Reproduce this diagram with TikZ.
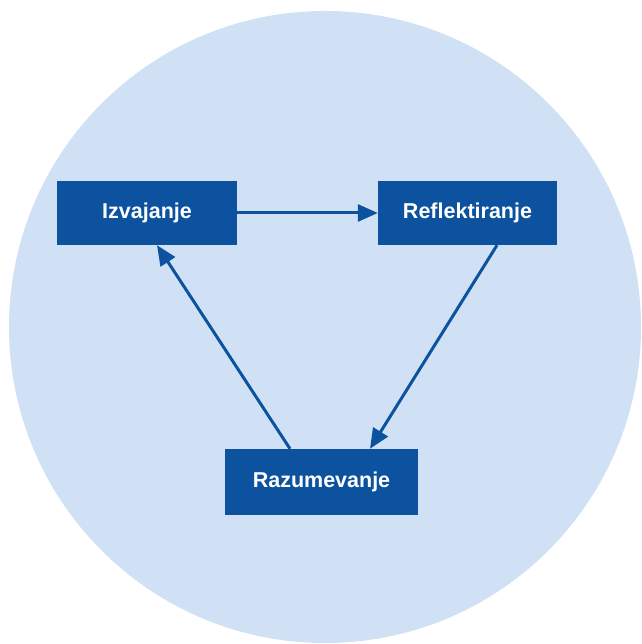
\documentclass[tikz,border=0pt]{standalone}
\usepackage{fontspec}
\setmainfont{Liberation Sans}
\usetikzlibrary{arrows.meta}
\definecolor{circfill}{RGB}{208,225,245}
\definecolor{boxblue}{RGB}{12,82,158}
\begin{document}
\begin{tikzpicture}[x=1pt,y=1pt,
  stepbox/.style={draw=none,fill=boxblue,text=white,font=\fontsize{21.5}{24}\selectfont\bfseries,inner sep=0pt,anchor=center},
  flow/.style={draw=boxblue,line width=3pt,-{Triangle[length=20pt,width=17pt]}}]
\useasboundingbox (0,0) rectangle (641,644);
\fill[circfill] (325,317) circle (316);
\node[stepbox,minimum width=180pt,minimum height=64pt] (I) at (147,431) {Izvajanje};
\node[stepbox,minimum width=179pt,minimum height=64pt] (R) at (467.5,431) {Reflektiranje};
\node[stepbox,minimum width=193pt,minimum height=66pt] (Z) at (321.5,162) {Razumevanje};
\draw[flow] (I.east) -- (R.west);
\draw[flow] ([xshift=29.5pt]R.south) -- ([xshift=48.5pt]Z.north);
\draw[flow] ([xshift=-31.5pt]Z.north) -- ([xshift=10pt]I.south);
\end{tikzpicture}
\end{document}
